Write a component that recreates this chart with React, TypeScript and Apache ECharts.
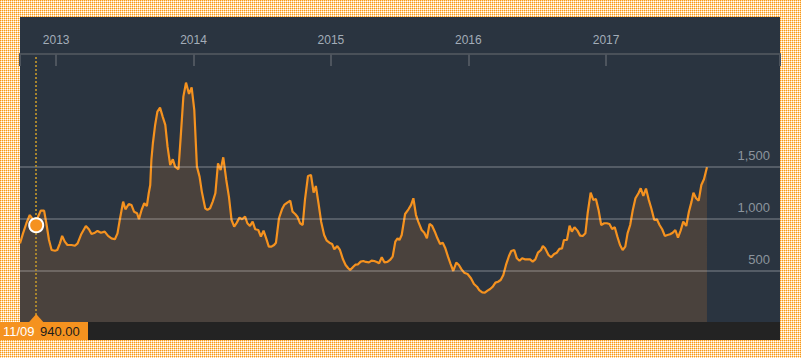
import React, { useEffect, useRef, useMemo } from 'react';
import * as echarts from 'echarts';

const dates = [
  '2012-09-27','2012-10-05','2012-10-14','2012-10-23','2012-10-29','2012-11-09','2012-11-14','2012-11-21','2012-11-30','2012-12-06',
  '2012-12-13','2012-12-20','2012-12-29','2013-01-04','2013-01-11','2013-01-17','2013-01-24','2013-01-31','2013-02-11','2013-02-20',
  '2013-02-27','2013-03-09','2013-03-21','2013-03-29','2013-04-05','2013-04-14','2013-04-21','2013-04-30','2013-05-10','2013-05-19',
  '2013-05-28','2013-06-06','2013-06-13','2013-06-19','2013-06-28','2013-07-04','2013-07-13','2013-07-20','2013-07-27','2013-08-04',
  '2013-08-09','2013-08-16','2013-08-23','2013-08-30','2013-09-04','2013-09-08','2013-09-11','2013-09-15','2013-09-21','2013-09-27',
  '2013-10-04','2013-10-11','2013-10-18','2013-10-24','2013-10-31','2013-11-07','2013-11-13','2013-11-22','2013-11-28','2013-12-05',
  '2013-12-12','2013-12-20','2013-12-27','2014-01-03','2014-01-10','2014-01-17','2014-01-23','2014-02-01','2014-02-07','2014-02-14',
  '2014-02-21','2014-02-28','2014-03-07','2014-03-14','2014-03-21','2014-03-29','2014-04-05','2014-04-12','2014-04-19','2014-04-26',
  '2014-05-03','2014-05-10','2014-05-18','2014-05-24','2014-05-31','2014-06-07','2014-06-14','2014-06-22','2014-06-29','2014-07-06',
  '2014-07-13','2014-07-20','2014-07-27','2014-08-03','2014-08-08','2014-08-16','2014-08-24','2014-08-30','2014-09-07','2014-09-15',
  '2014-09-21','2014-09-28','2014-10-04','2014-10-11','2014-10-18','2014-10-24','2014-11-01','2014-11-09','2014-11-16','2014-11-22',
  '2014-11-29','2014-12-06','2014-12-14','2014-12-21','2014-12-28','2015-01-04','2015-01-10','2015-01-18','2015-01-25','2015-02-02',
  '2015-02-09','2015-02-16','2015-02-21','2015-02-28','2015-03-07','2015-03-14','2015-03-21','2015-03-28','2015-04-04','2015-04-12',
  '2015-04-19','2015-04-26','2015-05-03','2015-05-09','2015-05-16','2015-05-23','2015-05-31','2015-06-07','2015-06-14','2015-06-21',
  '2015-06-27','2015-07-02','2015-07-08','2015-07-17','2015-07-26','2015-08-02','2015-08-08','2015-08-15','2015-08-21','2015-08-30',
  '2015-09-06','2015-09-13','2015-09-20','2015-09-27','2015-10-04','2015-10-11','2015-10-18','2015-10-25','2015-11-01','2015-11-08',
  '2015-11-15','2015-11-22','2015-11-30','2015-12-07','2015-12-14','2015-12-21','2015-12-30','2016-01-08','2016-01-16','2016-01-24',
  '2016-01-30','2016-02-07','2016-02-14','2016-02-21','2016-02-28','2016-03-06','2016-03-13','2016-03-20','2016-03-27','2016-04-03',
  '2016-04-10','2016-04-18','2016-04-24','2016-05-02','2016-05-09','2016-05-16','2016-05-23','2016-05-30','2016-06-06','2016-06-13',
  '2016-06-20','2016-06-27','2016-07-04','2016-07-12','2016-07-17','2016-07-23','2016-08-01','2016-08-08','2016-08-16','2016-08-23',
  '2016-08-30','2016-09-06','2016-09-11','2016-09-19','2016-09-26','2016-10-02','2016-10-09','2016-10-17','2016-10-24','2016-10-31',
  '2016-11-07','2016-11-13','2016-11-21','2016-11-28','2016-12-05','2016-12-12','2016-12-19','2016-12-27','2017-01-03','2017-01-10',
  '2017-01-17','2017-01-24','2017-01-31','2017-02-07','2017-02-14','2017-02-21','2017-02-27','2017-03-06','2017-03-13','2017-03-20',
  '2017-03-28','2017-04-03','2017-04-10','2017-04-17','2017-04-24','2017-05-01','2017-05-09','2017-05-16','2017-05-23','2017-05-30',
  '2017-06-06','2017-06-13','2017-06-20','2017-06-27','2017-07-04','2017-07-11','2017-07-18','2017-07-25','2017-08-02','2017-08-09',
  '2017-08-16','2017-08-21','2017-08-28','2017-09-04','2017-09-11','2017-09-18','2017-09-26'
];

const values = [
  766, 862, 959, 1038, 1007, 940, 1022, 1080, 1080, 959,
  798, 702, 695, 702, 766, 837, 782, 750, 750, 743,
  766, 856, 933, 901, 856, 868, 885, 868, 878, 837,
  814, 805, 862, 990, 1167, 1093, 1144, 1135, 1070, 1055,
  997, 1087, 1151, 1125, 1247, 1327, 1567, 1728, 1904, 2032,
  2070, 1984, 1904, 1695, 1519, 1574, 1503, 1478, 1791, 2176,
  2311, 2202, 2266, 2048, 1503, 1407, 1263, 1103, 1087, 1103,
  1167, 1247, 1535, 1471, 1593, 1375, 1215, 990, 926, 965,
  1013, 997, 1022, 959, 933, 974, 901, 894, 830, 888,
  814, 734, 734, 750, 772, 1007, 1093, 1135, 1157, 1176,
  1070, 1048, 1022, 959, 942, 1183, 1413, 1423, 1253, 1317,
  1151, 974, 846, 791, 772, 760, 709, 740, 702, 612,
  558, 526, 510, 535, 561, 564, 590, 596, 587, 583,
  599, 596, 587, 574, 632, 583, 587, 606, 638, 782,
  814, 798, 846, 1048, 1093, 1135, 1199, 1038, 974, 894,
  868, 814, 952, 933, 878, 814, 760, 772, 718, 638,
  567, 500, 580, 558, 516, 484, 471, 430, 375, 349,
  317, 295, 291, 311, 327, 349, 388, 397, 413, 462,
  558, 644, 692, 702, 622, 599, 622, 612, 612, 612,
  590, 612, 676, 702, 740, 718, 654, 632, 663, 676,
  712, 718, 798, 798, 936, 878, 920, 888, 840, 837,
  862, 1055, 1253, 1183, 1192, 1087, 942, 959, 959, 952,
  904, 920, 830, 750, 702, 734, 862, 942, 1087, 1199,
  1247, 1295, 1221, 1292, 1189, 1103, 990, 997, 942, 901,
  837, 846, 853, 868, 894, 820, 888, 974, 933, 1070,
  1167, 1253, 1199, 1176, 1327, 1382, 1497
];

const yearTicks = ['2013-01-01', '2014-01-01', '2015-01-01', '2016-01-01', '2017-01-01'];
const axisStart = '2012-09-27';
const axisEnd = '2018-04-08';
const yMin = 0;
const yMax = 2586;
const gridValues = [500, 1000, 1500];
const hoverDate = '2012-11-09';
const hoverValue = 940;

const ORANGE = '#f5921f';
const FONT = '"Liberation Sans", Arial, sans-serif';

function ts(s: string): number {
  const [y, m, d] = s.split('-').map(Number);
  return new Date(y, m - 1, d).getTime();
}

export default function App() {
  const ref = useRef<HTMLDivElement>(null);

  const pattern = useMemo(() => {
    const c = document.createElement('canvas');
    c.width = 2;
    c.height = 2;
    const g = c.getContext('2d');
    if (!g) return '';
    g.fillStyle = '#ffffff';
    g.fillRect(0, 0, 2, 2);
    g.fillStyle = '#fcd49a';
    g.fillRect(1, 0, 1, 1);
    g.fillRect(0, 1, 1, 1);
    g.fillStyle = '#f99a18';
    g.fillRect(0, 0, 1, 1);
    return c.toDataURL();
  }, []);

  useEffect(() => {
    if (!ref.current) return;
    const chart = echarts.init(ref.current, null, { renderer: 'svg' });
    const data = dates.map((d, i) => [ts(d), values[i]]);
    const hoverTs = ts(hoverDate);
    const [, hm, hd] = hoverDate.split('-');

    chart.setOption({
      animation: false,
      backgroundColor: 'transparent',
      grid: { left: 20, right: 21, top: 54, bottom: 35, containLabel: false },
      xAxis: {
        type: 'value',
        position: 'top',
        z: 5,
        min: ts(axisStart),
        max: ts(axisEnd),
        axisLine: { show: true, onZero: false, lineStyle: { color: '#4a5159', width: 2 } },
        axisTick: {
          show: true,
          inside: true,
          length: 12,
          lineStyle: { color: '#4e555e', width: 2 },
          customValues: [ts(axisStart), ...yearTicks.map(ts), ts(axisEnd)],
        },
        axisLabel: {
          customValues: yearTicks.map(ts),
          formatter: (v: number) => String(new Date(v).getFullYear()),
          color: '#a3adb8',
          fontSize: 12,
          fontFamily: FONT,
          margin: 8,
        },
        splitLine: { show: false },
      },
      yAxis: {
        type: 'value',
        min: yMin,
        max: yMax,
        show: false,
        splitLine: { show: false },
      },
      series: [
        {
          type: 'line',
          data,
          showSymbol: false,
          symbol: 'none',
          lineStyle: { color: ORANGE, width: 2.2 },
          itemStyle: { color: ORANGE },
          areaStyle: { color: '#4a423d', opacity: 1 },
          markLine: {
            silent: true,
            symbol: ['none', 'none'],
            animation: false,
            data: [
              ...gridValues.map((v) => ({
                yAxis: v,
                lineStyle: { color: 'rgba(255,255,255,0.27)', width: 1.5, type: 'solid' },
                label: {
                  show: true,
                  position: 'insideEndTop',
                  formatter: v.toLocaleString('en-US'),
                  color: '#8c949d',
                  fontSize: 13,
                  fontFamily: FONT,
                  distance: [10, 5],
                },
              })),
              {
                xAxis: hoverTs,
                lineStyle: { color: '#a8852f', width: 2, type: [2, 2] },
                label: { show: false },
              },
            ],
          },
          markPoint: {
            silent: true,
            animation: false,
            data: [
              {
                coord: [hoverTs, hoverValue],
                symbol: 'circle',
                symbolSize: 14,
                itemStyle: { color: ORANGE, borderColor: '#ffffff', borderWidth: 2 },
                label: { show: false },
              },
            ],
          },
        },
      ],
    });

    const px = chart.convertToPixel({ xAxisIndex: 0 }, hoverTs) as number;

    chart.setOption({
      graphic: [
        {
          type: 'rect',
          silent: true,
          z: -10,
          shape: { x: 20, y: 17, width: 760, height: 323 },
          style: { fill: '#2a3440' },
        },
        {
          type: 'rect',
          silent: true,
          z: 50,
          shape: { x: 20, y: 322, width: 760, height: 18 },
          style: { fill: '#232323' },
        },
        {
          type: 'rect',
          silent: true,
          z: 51,
          shape: { x: 0, y: 322, width: 88, height: 18 },
          style: { fill: ORANGE },
        },
        {
          type: 'polygon',
          silent: true,
          z: 51,
          shape: { points: [[px - 7.5, 322.5], [px, 314], [px + 7.5, 322.5]] },
          style: { fill: ORANGE },
        },
        {
          type: 'text',
          silent: true,
          z: 52,
          x: 3,
          y: 331,
          style: {
            text: `${hm}/${hd}`,
            fill: '#ffffff',
            font: `13px ${FONT}`,
            verticalAlign: 'middle',
          },
        },
        {
          type: 'text',
          silent: true,
          z: 52,
          x: 40,
          y: 331,
          style: {
            text: hoverValue.toFixed(2),
            fill: '#1c1c1c',
            font: `13px ${FONT}`,
            verticalAlign: 'middle',
          },
        },
      ],
    });

    return () => chart.dispose();
  }, []);

  return (
    <div
      style={{
        position: 'fixed',
        left: 0,
        top: 0,
        width: 801,
        height: 358,
        backgroundColor: '#ffffff',
        backgroundImage: pattern ? `url(${pattern})` : undefined,
        backgroundRepeat: 'repeat',
      }}
    >
      <div ref={ref} style={{ width: 801, height: 358 }} />
    </div>
  );
}
